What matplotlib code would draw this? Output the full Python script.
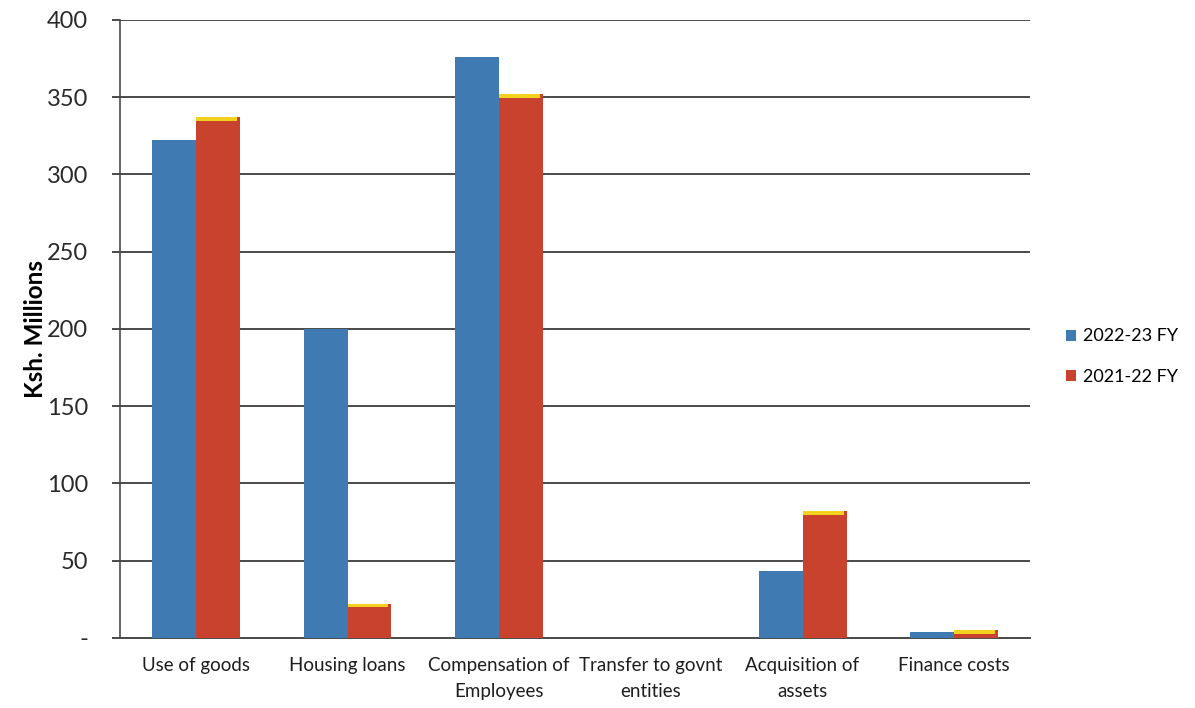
import numpy as np
import matplotlib
matplotlib.use('Agg')
import matplotlib.pyplot as plt

# data (Ksh. millions)
categories = ['Use of goods', 'Housing loans', 'Compensation of\nEmployees',
              'Transfer to govnt\nentities', 'Acquisition of\nassets', 'Finance costs']
fy_2022_23 = [322, 200, 376, 0, 43, 4]
fy_2021_22 = [337, 22, 352, 0, 82, 5]
y_ticks = [0, 50, 100, 150, 200, 250, 300, 350, 400]
y_tick_labels = ['-', '50', '100', '150', '200', '250', '300', '350', '400']

plt.rcParams['font.family'] = ['Lato', 'DejaVu Sans']

blue = '#3f7ab3'
red = '#c9422e'
yellow = '#f2d21c'
grid_c = '#4a4a4a'

fig = plt.figure(figsize=(11.95, 7.08), dpi=100)
ax = fig.add_axes([0.1004, 0.099, 0.7616, 0.873])

x = np.arange(len(categories))
w = 0.29
ax.bar(x - w / 2, fy_2022_23, width=w, color=blue, label='2022-23 FY', zorder=3)
ax.bar(x + w / 2, fy_2021_22, width=w, color=red, label='2021-22 FY', zorder=3)

# yellow top face on the red bars (3D look of the original)
red_vals = np.array(fy_2021_22, dtype=float)
cap = np.where(red_vals > 0, 2.3, 0)
ax.bar(x + w / 2 - 0.01, cap, bottom=red_vals - cap, width=w - 0.02,
       color=yellow, zorder=4)

ax.set_xlim(-0.5, len(categories) - 0.5)
ax.set_ylim(0, 400)
ax.set_yticks(y_ticks)
ax.set_yticklabels(y_tick_labels, fontsize=17, color='#2a2a2a')
ax.set_xticks(x)
ax.set_xticklabels(categories, fontsize=13.5, color='#1e1e1e', linespacing=1.6)

ax.yaxis.grid(True, color=grid_c, linewidth=1.4, zorder=1)
ax.set_axisbelow(True)
ax.tick_params(axis='y', length=6, width=1.4, color=grid_c, pad=17)
ax.tick_params(axis='x', length=0, pad=14)

for s in ['top', 'right']:
    ax.spines[s].set_visible(False)
ax.spines['left'].set_color(grid_c)
ax.spines['left'].set_linewidth(1.2)
ax.spines['bottom'].set_color(grid_c)
ax.spines['bottom'].set_linewidth(1.4)

ax.set_ylabel('Ksh. Millions', fontsize=17.5, fontweight='bold', labelpad=0)

ax.legend(loc='center left', bbox_to_anchor=(1.022, 0.455), frameon=False,
          fontsize=13, handlelength=0.55, handleheight=0.55,
          handletextpad=0.35, labelspacing=1.35)

fig.savefig('out.png', dpi=100, facecolor='white')
